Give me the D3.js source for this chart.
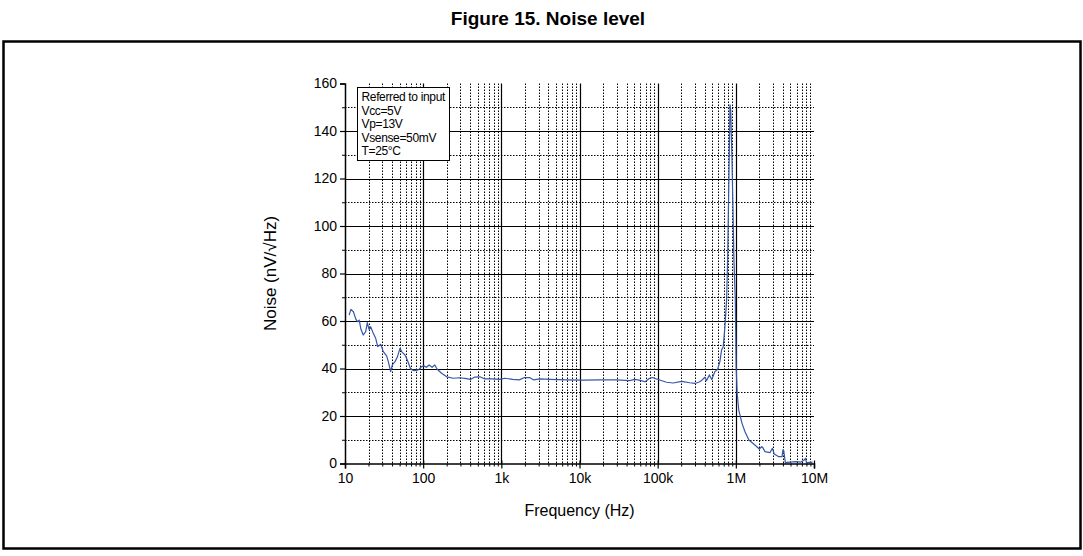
<!DOCTYPE html>
<html>
<head>
<meta charset="utf-8">
<script src="https://cdn.jsdelivr.net/npm/d3@7"></script>
<style>
  html, body { margin: 0; padding: 0; background: #fff; }
  svg { display: block; font-family: Arial, "Liberation Sans", sans-serif; }
</style>
</head>
<body>
<svg id="chart" width="1083" height="556"></svg>
<script>
// ---- data ----
const titleText = "Figure 15. Noise level";
const xTitle = "Frequency (Hz)";
const yTitle = "Noise (nV/\u221AHz)";
const legendLines = ["Referred to input", "Vcc=5V", "Vp=13V", "Vsense=50mV", "T=25\u00B0C"];
const xTickValues = [10, 100, 1e3, 1e4, 1e5, 1e6, 1e7];
const xTickLabels = ["10", "100", "1k", "10k", "100k", "1M", "10M"];
const yTickValues = [0, 20, 40, 60, 80, 100, 120, 140, 160];
const yMinorValues = [10, 30, 50, 70, 90, 110, 130, 150];
const frequency = [11.3, 11.9, 12.8, 13.8, 14.5, 15.2, 16.0, 17.1, 18.4, 19.3, 20.3, 21.3, 23.0, 24.7, 26.2, 28.6,
  30.9, 34.1, 35.8, 38.4, 40.3, 43.6, 46.6, 50.5, 53.0, 58.5, 62.7, 69.3, 76.3, 86.6, 95.6, 102, 110, 119, 130, 141,
  151, 172, 200, 243, 295, 358, 403, 458, 532, 617, 752, 960, 1110, 1400, 1700, 1980, 2300, 2600, 3100, 4200, 6900,
  11200, 18000, 29500, 44000, 51000, 60000, 69000, 78000, 85000, 97000, 130000, 158000, 203000, 258000, 300000,
  340000, 363000, 401000, 423000, 458000, 492000, 540000, 585000, 625000, 657000, 690000, 725000, 762000, 785000,
  810000, 834000, 842000, 860000, 893000, 920000, 945000, 985000, 1010000, 1040000, 1090000, 1200000, 1310000,
  1470000, 1750000, 2000000, 2140000, 2200000, 2360000, 2740000, 2930000, 3100000, 3500000, 3900000, 4000000,
  4100000, 4300000, 4900000, 5900000, 6800000, 7500000, 7800000, 8000000, 9600000];
const noise = [62.5, 64.9, 63.9, 60.7, 59.7, 60.4, 56.5, 54.1, 55.5, 59.3, 56.5, 57.6, 54.8, 52.7, 49.2, 50.2,
  47.1, 45.3, 42.9, 38.7, 41.5, 42.9, 44.7, 48.5, 47.1, 45.7, 43.6, 39.7, 39.1, 39.4, 40.8, 41.1, 40.5, 41.5, 40.5, 41.5,
  39.7, 38.0, 36.5, 35.9, 36.1, 35.7, 35.4, 36.4, 36.5, 35.6, 35.6, 35.4, 35.9, 35.4, 35.2, 36.2, 36.2, 35.2, 35.6, 35.4, 35.2,
  35.1, 35.2, 35.2, 34.9, 35.4, 35.0, 34.4, 35.8, 36.2, 35.6, 34.2, 33.9, 34.6, 34.0, 33.7,
  34.3, 34.9, 36.3, 34.9, 37.3, 35.4, 38.7, 39.7, 42.9, 47.8, 49.2, 57.6, 68.8, 85.7,
  113.8, 141.8, 151, 148.8, 127.8, 106.7, 85.7, 68.8, 40.8, 29.5, 22.5, 16.9, 13.4,
  9.9, 7.8, 6.1, 7.1, 6.8, 5.0, 4.6, 6.4, 4.0, 2.9, 2.9, 5.7,
  5.4, 0.4, 0.6, 0.8, 0.6, 1.5, 2.2, 0.4, 0.6];

// ---- layout ----
const plot = { left: 345, right: 814, top: 83.5, bottom: 463.5 };
const svg = d3.select("#chart");

const x = d3.scaleLog().domain([10, 1e7]).range([plot.left, plot.right]);
const y = d3.scaleLinear().domain([0, 160]).range([plot.bottom, plot.top]);

// title
svg.append("text").attr("x", 548).attr("y", 25).attr("text-anchor", "middle")
  .attr("font-size", 19).attr("font-weight", "bold").text(titleText);

// outer frame
svg.append("rect").attr("x", 3.5).attr("y", 41.5).attr("width", 1077).attr("height", 507)
  .attr("fill", "none").attr("stroke", "#000").attr("stroke-width", 2.5);

// minor vertical grid (2..9 per decade)
const minorX = [];
for (let d = 10; d < 1e7; d *= 10) for (let k = 2; k <= 9; k++) minorX.push(d * k);
const g = svg.append("g");
g.selectAll(".vmin").data(minorX).enter().append("line")
  .attr("x1", d => Math.round(x(d)) + 0.5).attr("x2", d => Math.round(x(d)) + 0.5)
  .attr("y1", plot.top).attr("y2", plot.bottom)
  .attr("stroke", "#000").attr("stroke-width", 1).attr("stroke-dasharray", "1.5,1.5");
// minor horizontal grid
g.selectAll(".hmin").data(yMinorValues).enter().append("line")
  .attr("x1", plot.left).attr("x2", plot.right)
  .attr("y1", d => Math.round(y(d)) + 0.5).attr("y2", d => Math.round(y(d)) + 0.5)
  .attr("stroke", "#000").attr("stroke-width", 1).attr("stroke-dasharray", "1.5,1.5");
// major vertical grid
g.selectAll(".vmaj").data(xTickValues.slice(1, -1)).enter().append("line")
  .attr("x1", d => Math.round(x(d)) + 0.5).attr("x2", d => Math.round(x(d)) + 0.5)
  .attr("y1", plot.top).attr("y2", plot.bottom)
  .attr("stroke", "#000").attr("stroke-width", 1.2);
// major horizontal grid
g.selectAll(".hmaj").data(yTickValues.slice(1, -1)).enter().append("line")
  .attr("x1", plot.left).attr("x2", plot.right)
  .attr("y1", d => Math.round(y(d)) + 0.5).attr("y2", d => Math.round(y(d)) + 0.5)
  .attr("stroke", "#000").attr("stroke-width", 1.2);

// legend box (white, covers grid)
const lb = { x: 357.5, y: 87.5, w: 92, h: 73 };
svg.append("rect").attr("x", lb.x).attr("y", lb.y).attr("width", lb.w).attr("height", lb.h)
  .attr("fill", "#fff").attr("stroke", "#000").attr("stroke-width", 1);
svg.append("g").selectAll("text").data(legendLines).enter().append("text")
  .attr("x", lb.x + 4).attr("y", (d, i) => 101 + i * 13.5)
  .attr("font-size", 12).attr("letter-spacing", -0.35).text(d => d);

// data line
const line = d3.line().x((d, i) => x(frequency[i])).y(d => y(d));
svg.append("path").datum(noise).attr("d", line)
  .attr("fill", "none").attr("stroke", "#3656a8").attr("stroke-width", 1.2).attr("stroke-linejoin", "round");

// y axis
const yAxis = d3.axisLeft(y).tickValues(yTickValues).tickSize(5).tickPadding(3).tickFormat(d3.format("d"));
const gy = svg.append("g").attr("transform", `translate(${plot.left},0)`).call(yAxis);
gy.select(".domain").attr("stroke-width", 1.5);
gy.selectAll(".tick line").attr("stroke-width", 1.2);
gy.selectAll("text").attr("font-size", 14).attr("font-family", "Arial, 'Liberation Sans', sans-serif").attr("fill", "#000");
const yAxisMinor = d3.axisLeft(y).tickValues(yMinorValues).tickSize(3).tickFormat("");
const gym = svg.append("g").attr("transform", `translate(${plot.left},0)`).call(yAxisMinor);
gym.select(".domain").remove();

// x axis
const xAxis = d3.axisBottom(x).tickValues(xTickValues).tickSize(5).tickPadding(5)
  .tickFormat((d, i) => xTickLabels[i]);
const gx = svg.append("g").attr("transform", `translate(0,${plot.bottom})`).call(xAxis);
gx.select(".domain").attr("stroke-width", 1.5);
gx.selectAll(".tick line").attr("stroke-width", 1.2).attr("y1", -3);
gx.selectAll("text").attr("font-size", 14).attr("font-family", "Arial, 'Liberation Sans', sans-serif").attr("fill", "#000");
const xAxisMinor = d3.axisBottom(x).tickValues(minorX).tickSize(3).tickFormat("");
const gxm = svg.append("g").attr("transform", `translate(0,${plot.bottom})`).call(xAxisMinor);
gxm.select(".domain").remove();

// axis titles
svg.append("text").attr("x", (plot.left + plot.right) / 2).attr("y", 516).attr("text-anchor", "middle")
  .attr("font-size", 16).text(xTitle);
svg.append("text").attr("transform", `translate(276,${(plot.top + plot.bottom) / 2}) rotate(-90)`)
  .attr("text-anchor", "middle").attr("font-size", 17).text(yTitle);
</script>
</body>
</html>
